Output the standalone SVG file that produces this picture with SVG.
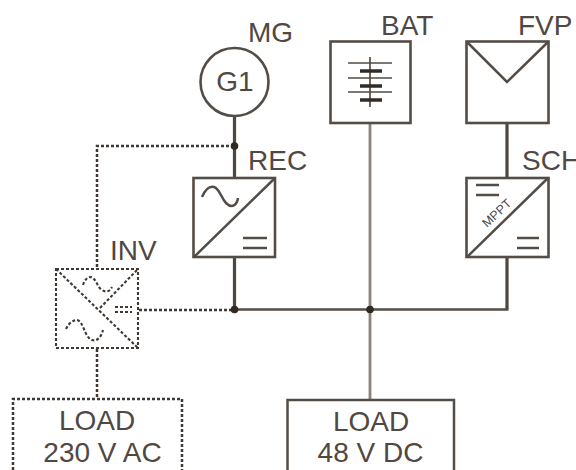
<svg xmlns="http://www.w3.org/2000/svg" width="576" height="470" viewBox="0 0 576 470">
<style>
.s{fill:none;stroke:#544c46;stroke-width:2.5}
.b{fill:#fff;stroke:#544c46;stroke-width:2.6}
.v{fill:none;stroke:#4e4640;stroke-width:3.2}
.g{fill:none;stroke:#8a827c;stroke-width:2.8}
.t{stroke:#544c46;stroke-width:1.7;fill:none}
.k{stroke:#332b26;stroke-width:3.6;fill:none}
.d{fill:none;stroke:#3f3833;stroke-width:2.5;stroke-dasharray:3 2}
.w{fill:none;stroke:#3f3833;stroke-width:2.1;stroke-dasharray:3 2}
text{font-family:"Liberation Sans",Arial,sans-serif;font-size:28px;fill:#4f4843}
.m{text-anchor:middle}
</style>
<rect width="576" height="470" fill="#fff"/>
<g id="connectors">
<path class="v" d="M234.500 115V178M234.500 257V309M507 123V178M507 257V309"/>
<path class="g" d="M370 123V400"/>
<path class="s" d="M234 309.500H508.500"/>
<path class="d" d="M234 146H97V268M139 310H234M97 349V399"/>
<circle cx="234.500" cy="146" r="3.800" fill="#2f2823"/>
<circle cx="234.500" cy="309.500" r="3.800" fill="#2f2823"/>
<circle cx="370" cy="309.500" r="3.800" fill="#2f2823"/>
</g>
<g id="MG"><circle class="b" cx="234.500" cy="82" r="34"/>
<text class="m" x="235" y="91">G1</text>
<text x="248" y="42">MG</text></g>
<g id="BAT"><rect class="b" x="330.500" y="41.500" width="80" height="81.500"/>
<path class="t" d="M370 57V107M348 63H392M348 78H392M348 92H392"/>
<path class="k" d="M360 71H382M360 86H382M360 100H382"/>
<text x="381" y="35">BAT</text></g>
<g id="FVP"><rect class="b" x="466.500" y="41.500" width="82" height="81.500"/>
<path class="s" d="M467 42L507 82L548 42"/>
<text x="518" y="35">FVP</text></g>
<g id="REC"><rect class="b" x="193.500" y="178" width="81.500" height="79"/>
<path class="s" d="M194 257L275 178"/>
<path class="s" d="M202 197C206 188 210 186 214 187C220 189 221 198 226 203C232 209 237 205 238 198"/>
<path class="s" d="M243 238H267M243 248H267"/>
<text x="248" y="170">REC</text></g>
<g id="SCH"><rect class="b" x="466.500" y="178" width="82" height="79"/>
<path class="s" d="M467 257L548 178"/>
<path class="s" d="M476 185H499M476 195H499M517 238H539M517 248H539"/>
<text transform="translate(487,228) rotate(-43)" style="font-size:12.500px">MPPT</text>
<text x="522" y="170">SCH</text></g>
<g id="INV"><rect class="w" x="56" y="269" width="82" height="79"/>
<path class="w" d="M56 269L138 348M100 308L138 269"/>
<path class="w" d="M83 285C85 279 88 277 91 277C96 278 97 287 102 290C107 293 110 291 112 287M66 329C69 323 73 320 77 320C83 321 84 334 90 339C96 343 101 338 103 330M115 307H132M115 312H132"/>
<text x="110" y="260">INV</text></g>
<g id="LOAD230"><path class="d" d="M13 470V399H182V470"/>
<text class="m" x="97" y="430">LOAD</text>
<text class="m" x="102.500" y="462">230 V AC</text></g>
<g id="LOAD48"><path class="s" d="M287.500 470V400H454V470"/>
<text class="m" x="371" y="431">LOAD</text>
<text class="m" x="370.500" y="462">48 V DC</text></g>
</svg>
